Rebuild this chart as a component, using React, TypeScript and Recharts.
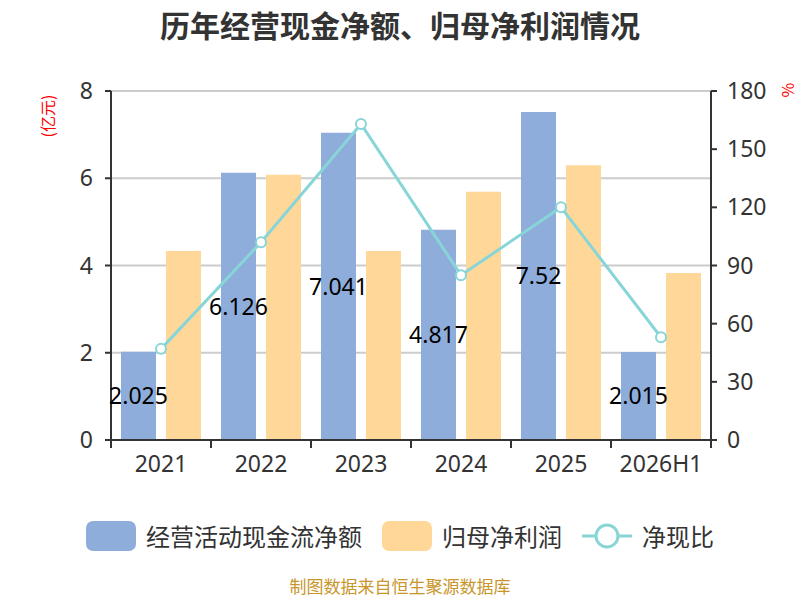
import { Bar, ComposedChart, CartesianGrid, LabelList, Line, XAxis, YAxis } from "recharts";

const years = ["2021", "2022", "2023", "2024", "2025", "2026H1"];
const opCashFlow = [2.025, 6.126, 7.041, 4.817, 7.52, 2.015];
const netProfit = [4.33, 6.08, 4.33, 5.69, 6.3, 3.83];
const cashRatio = [47, 102, 163, 85, 120, 53];
const leftTicks = [0, 2, 4, 6, 8];
const rightTicks = [0, 30, 60, 90, 120, 150, 180];

const BLUE = "#8eaddb";
const ORANGE = "#ffd899";
const TEAL = "#88d5d8";
const AXIS = "#333";
const FONT = "'Noto Sans CJK SC', 'Noto Sans', sans-serif";
const NUM_FONT = "'Noto Sans', 'Noto Sans CJK SC', sans-serif";

const chartData = years.map((year, i) => ({
  year,
  op: opCashFlow[i],
  profit: netProfit[i],
  ratio: cashRatio[i],
}));

// boundary tick marks like the original (between categories, not at centres)
function XTick(props: any) {
  const { x, y, payload, index, visibleTicksCount, width } = props;
  const half = payload?.offset || width / visibleTicksCount / 2 || 50;
  const axisY = y - 6 - 10;
  return (
    <g>
      {index === 0 && (
        <line x1={x - half} x2={x - half} y1={axisY} y2={axisY + 8} stroke={AXIS} strokeWidth={2} />
      )}
      <line x1={x + half} x2={x + half} y1={axisY} y2={axisY + 8} stroke={AXIS} strokeWidth={2} />
      <text x={x} y={y} dy="0.71em" textAnchor="middle" fill="#333" fontSize={23} fontFamily={NUM_FONT}>
        {payload.value}
      </text>
    </g>
  );
}

const legendItems = [
  { name: "经营活动现金流净额", color: BLUE, kind: "rect" },
  { name: "归母净利润", color: ORANGE, kind: "rect" },
  { name: "净现比", color: TEAL, kind: "line" },
];

export default function App() {
  return (
    <div
      style={{
        position: "absolute",
        left: 0,
        top: 0,
        width: 800,
        height: 600,
        background: "#fff",
        fontFamily: FONT,
        overflow: "hidden",
      }}
    >
      <div
        style={{
          position: "absolute",
          top: 2,
          width: 800,
          textAlign: "center",
          fontSize: 30,
          fontWeight: "bold",
          color: "#333",
        }}
      >
        历年经营现金净额、归母净利润情况
      </div>

      <ComposedChart
        width={800}
        height={600}
        data={chartData}
        margin={{ top: 91, right: 29, bottom: 130, left: 51 }}
        barCategoryGap={10}
        barGap={10}
      >
        <CartesianGrid yAxisId="left" vertical={false} stroke="#ccc" strokeWidth={2} />
        <XAxis
          dataKey="year"
          height={30}
          tickLine={false}
          tickSize={6}
          tickMargin={10}
          axisLine={{ stroke: AXIS, strokeWidth: 2 }}
          tick={<XTick />}
          interval={0}
        />
        <YAxis
          yAxisId="left"
          width={60}
          domain={[0, 8]}
          ticks={leftTicks}
          tickSize={6}
          tickMargin={12}
          axisLine={{ stroke: AXIS, strokeWidth: 2 }}
          tickLine={{ stroke: AXIS, strokeWidth: 2 }}
          tick={{ fill: "#333", fontSize: 23, fontFamily: NUM_FONT }}
        />
        <YAxis
          yAxisId="right"
          orientation="right"
          width={60}
          domain={[0, 180]}
          ticks={rightTicks}
          tickSize={6}
          tickMargin={10}
          axisLine={{ stroke: AXIS, strokeWidth: 2 }}
          tickLine={{ stroke: AXIS, strokeWidth: 2 }}
          tick={{ fill: "#333", fontSize: 23, fontFamily: NUM_FONT }}
        />
        <Bar yAxisId="left" dataKey="op" fill={BLUE} isAnimationActive={false}>
          <LabelList
            dataKey="op"
            position="center"
            fill="#000"
            fontSize={23}
            fontFamily={NUM_FONT}
          />
        </Bar>
        <Bar yAxisId="left" dataKey="profit" fill={ORANGE} isAnimationActive={false} />
        <Line
          yAxisId="right"
          dataKey="ratio"
          type="linear"
          stroke={TEAL}
          strokeWidth={3}
          dot={{ r: 5, fill: "#fff", stroke: TEAL, strokeWidth: 2 }}
          isAnimationActive={false}
        />
      </ComposedChart>

      <div
        style={{
          position: "absolute",
          left: 47,
          top: 116,
          transform: "translate(-50%, -50%) rotate(-90deg)",
          color: "#ff0000",
          fontSize: 16,
          whiteSpace: "nowrap",
        }}
      >
        (亿元)
      </div>
      <div
        style={{
          position: "absolute",
          left: 787,
          top: 90,
          transform: "translate(-50%, -50%) rotate(-90deg)",
          color: "#ff0000",
          fontSize: 16,
        }}
      >
        %
      </div>

      <div
        style={{
          position: "absolute",
          top: 518,
          width: 800,
          display: "flex",
          justifyContent: "center",
          alignItems: "center",
          gap: 20,
          fontSize: 24,
          color: "#333",
        }}
      >
        {legendItems.map((item) => (
          <div key={item.name} style={{ display: "flex", alignItems: "center", gap: 10 }}>
            {item.kind === "rect" ? (
              <div style={{ width: 50, height: 30, borderRadius: 7, background: item.color }} />
            ) : (
              <svg width={50} height={30}>
                <line x1={0} x2={50} y1={15} y2={15} stroke={item.color} strokeWidth={3} />
                <circle cx={25} cy={15} r={11} fill="#fff" stroke={item.color} strokeWidth={3} />
              </svg>
            )}
            <span>{item.name}</span>
          </div>
        ))}
      </div>

      <div
        style={{
          position: "absolute",
          top: 576,
          width: 800,
          textAlign: "center",
          fontSize: 17,
          lineHeight: "20px",
          color: "#c8962a",
        }}
      >
        制图数据来自恒生聚源数据库
      </div>
    </div>
  );
}
